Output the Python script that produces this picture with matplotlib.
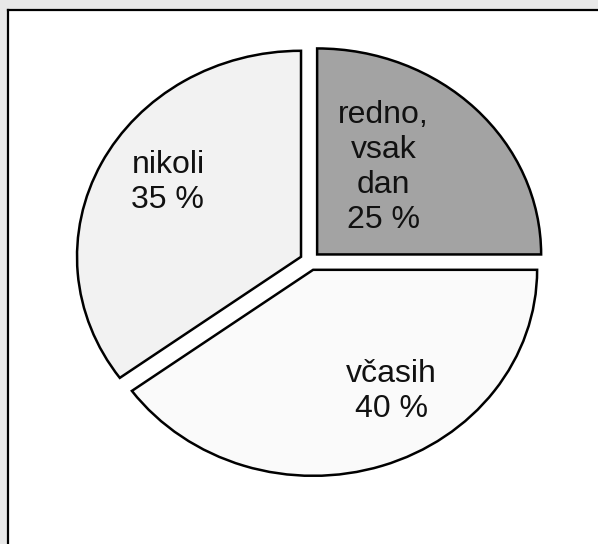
import matplotlib
matplotlib.use("Agg")
import matplotlib.pyplot as plt
from matplotlib.patches import Rectangle
import numpy as np

# Data
categories = ["redno,\nvsak\ndan", "včasih", "nikoli"]
values = [25, 40, 35]
colors = ["#a3a3a3", "#fafafa", "#f2f2f2"]

# label placement (angle in degrees, distance as fraction of radius)
label_angles = [54, -60, 149]
label_dists = [0.56, 0.73, 0.74]

W, H = 598, 544
fig = plt.figure(figsize=(W / 100, H / 100), dpi=100, facecolor="#e8e8e8")

# white chart area with black top/left frame
fx0, fy0 = 7.5, 10.0
fig.add_artist(Rectangle((fx0 / W, -0.1), 1.2, 1.1 - fy0 / H, transform=fig.transFigure,
                         facecolor="white", edgecolor="none", zorder=0))
fig.add_artist(plt.Line2D([fx0 / W, fx0 / W], [0, 1 - fy0 / H], transform=fig.transFigure,
                          color="black", lw=1.6, zorder=1))
fig.add_artist(plt.Line2D([fx0 / W, 1], [1 - fy0 / H, 1 - fy0 / H], transform=fig.transFigure,
                          color="black", lw=1.6, zorder=1))

ax = fig.add_axes([0, 0, 1, 1])
ax.patch.set_visible(False)
ax.set_zorder(2)

wedges, _ = ax.pie(values, colors=colors, startangle=90, counterclock=False,
                   explode=[0.045] * 3, radius=1.0,
                   wedgeprops=dict(edgecolor="black", linewidth=1.8))

# elliptical pie: 1 unit = rx px horizontally, ry px vertically
cx, cy, rx, ry = 310, 261, 224, 206
ax.set_aspect("auto")
ax.set_xlim(-cx / rx, (W - cx) / rx)
ax.set_ylim(-(H - cy) / ry, cy / ry)
ax.axis("off")

for cat, v, a, d in zip(categories, values, label_angles, label_dists):
    t = np.deg2rad(a)
    ax.text(d * np.cos(t), d * np.sin(t), f"{cat}\n{v} %", ha="center", va="center",
            multialignment="center", fontsize=23, family=["Liberation Sans", "DejaVu Sans"],
            linespacing=1.22, color="#111111")

fig.savefig("out.png", dpi=100, facecolor=fig.get_facecolor())
